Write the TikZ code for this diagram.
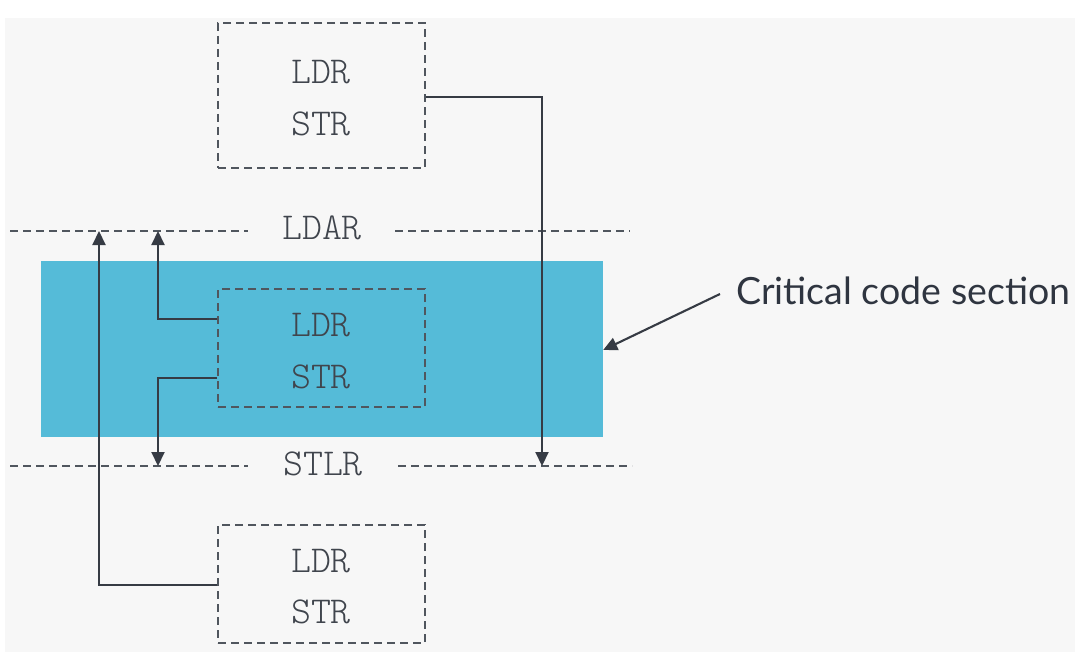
\documentclass[tikz,border=0pt]{standalone}
\usepackage{fontspec}
\setmonofont{Latin Modern Mono Light}
\newfontfamily\labelfont{Lato}
\usetikzlibrary{arrows.meta}
\definecolor{bggray}{HTML}{F7F7F7}
\definecolor{critblue}{HTML}{55BBD8}
\definecolor{linecol}{HTML}{363B44}
\definecolor{dashcol}{HTML}{50565E}
\definecolor{monotext}{HTML}{40454D}
\definecolor{labeltext}{HTML}{2F3540}
\tikzset{
  codebox/.style={draw=dashcol, line width=2pt, dash pattern=on 8pt off 5pt, minimum width=207pt, inner sep=0pt},
  codetext/.style={font=\fontsize{38}{38}\selectfont\ttfamily, text=monotext, inner sep=0pt, anchor=center},
  barrier/.style={draw=dashcol, line width=2pt, dash pattern=on 8pt off 5pt},
  conn/.style={draw=linecol, line width=2.1pt},
  arr/.style={conn, -{Triangle[width=13pt,length=14pt]}},
}
\begin{document}
\begin{tikzpicture}[x=1pt,y=-1pt]
\useasboundingbox (0,0) rectangle (1080,666);
\fill[white] (0,0) rectangle (1080,666);
\fill[bggray] (5,18) rectangle (1075,652);
% critical section
\node[fill=critblue, minimum width=562pt, minimum height=176pt, inner sep=0pt] (crit) at (322,349) {};
% barrier lines
\coordinate (ldarA) at (10,231);
\coordinate (ldarB) at (248,231);
\coordinate (ldarC) at (395,231);
\coordinate (ldarD) at (630,231);
\coordinate (stlrA) at (10,466);
\coordinate (stlrB) at (248,466);
\coordinate (stlrC) at (398,466);
\coordinate (stlrD) at (632,466);
\draw[barrier] (ldarA) -- (ldarB);
\draw[barrier] (ldarC) -- (ldarD);
\draw[barrier] (stlrA) -- (stlrB);
\draw[barrier] (stlrC) -- (stlrD);
\node[codetext] (ldar) at (322,228) {LDAR};
\node[codetext] (stlr) at (323,464) {STLR};
% boxes
\node[codebox, minimum height=145pt] (top) at (321.5,95.5) {};
\node[codebox, minimum height=118pt] (mid) at (321.5,348) {};
\node[codebox, minimum height=118pt] (bot) at (321.5,584) {};
\node[codetext] (topL) at (321,72) {LDR};
\node[codetext] (topS) at (321,124) {STR};
\node[codetext] (midL) at (321,325) {LDR};
\node[codetext] (midS) at (321,377) {STR};
\node[codetext] (botL) at (321,561) {LDR};
\node[codetext] (botS) at (321,612) {STR};
% connectors
\coordinate (c1) at (542,466);
\draw[arr] (top.east |- 0,97) -| (c1);
\coordinate (c2) at (158,231);
\draw[arr] (mid.west |- 0,319) -| (c2);
\coordinate (c3) at (158,466);
\draw[arr] (mid.west |- 0,378) -| (c3);
\coordinate (c4) at (99,231);
\draw[arr] (bot.west |- 0,585) -| (c4);
% label
\node[font=\fontsize{37.5}{37.5}\labelfont, text=labeltext, anchor=west, inner sep=0pt] (lab) at (736,291) {Critical code section};
\coordinate (labArr) at (720,294);
\draw[arr] (labArr) -- (crit.east |- 0,350);
\end{tikzpicture}
\end{document}
